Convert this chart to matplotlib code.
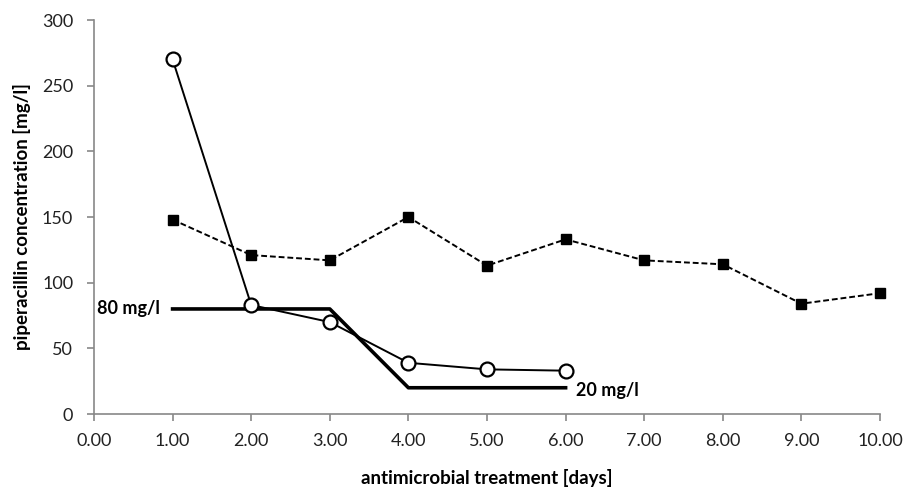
import matplotlib
matplotlib.use("Agg")
import matplotlib.pyplot as plt

# concentration data
days_circ = [1, 2, 3, 4, 5, 6]
conc_circ = [270, 83, 70, 39, 34, 33]

days_sq = [1, 2, 3, 4, 5, 6, 7, 8, 9, 10]
conc_sq = [148, 121, 117, 150, 113, 133, 117, 114, 84, 92]

# target concentration step line
days_target = [1, 3, 4, 6]
conc_target = [80, 80, 20, 20]

x_ticks = [0, 1, 2, 3, 4, 5, 6, 7, 8, 9, 10]
y_ticks = [0, 50, 100, 150, 200, 250, 300]

plt.rcParams['font.family'] = ['Lato', 'DejaVu Sans']

fig = plt.figure(figsize=(9.18, 4.93), dpi=100)
ax = fig.add_axes([0.1024, 0.1602, 0.8562, 0.7992])

ax.plot(days_target, conc_target, '-', color='black', lw=2.6, zorder=2)
ax.plot(days_sq, conc_sq, '--', color='black', lw=1.4, dashes=(3, 1.5),
        marker='s', ms=7.5, mfc='black', mec='black', zorder=3, clip_on=False)
ax.plot(days_circ, conc_circ, '-', color='black', lw=1.4,
        marker='o', ms=10, mfc='white', mec='black', mew=1.6, zorder=4, clip_on=False)

ax.text(0.84, 80, '80 mg/l', ha='right', va='center', fontsize=13, fontweight='bold')
ax.text(6.13, 18, '20 mg/l', ha='left', va='center', fontsize=13, fontweight='bold')

ax.set_xlim(0, 10)
ax.set_ylim(0, 300)
ax.set_xticks(x_ticks)
ax.set_xticklabels(['%.2f' % t for t in x_ticks])
ax.set_yticks(y_ticks)

for s in ['top', 'right']:
    ax.spines[s].set_visible(False)
for s in ['left', 'bottom']:
    ax.spines[s].set_color('#888888')
    ax.spines[s].set_linewidth(1.2)
ax.tick_params(axis='both', direction='out', length=5, width=1.2, color='#888888',
               labelsize=13, labelcolor='#222222')
ax.tick_params(axis='x', pad=9)
ax.tick_params(axis='y', pad=10)

ax.set_xlabel('antimicrobial treatment [days]', fontsize=13.5, fontweight='bold', labelpad=14)
ax.set_ylabel('piperacillin concentration [mg/l]', fontsize=13.5, fontweight='bold', labelpad=8)

fig.savefig('out.png', dpi=100)
